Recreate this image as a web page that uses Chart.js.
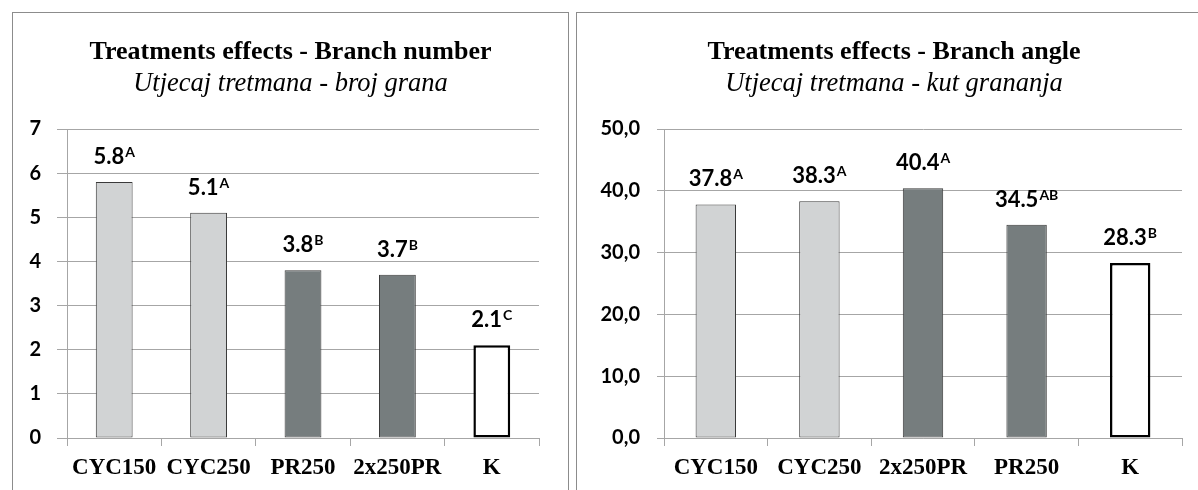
<!DOCTYPE html>
<html>
<head>
<meta charset="utf-8">
<script src="https://cdn.jsdelivr.net/npm/chart.js@4/dist/chart.umd.min.js"></script>
<style>
  html, body { margin: 0; padding: 0; background: #fff; overflow: hidden; width: 1198px; height: 490px; }
  .panel { position: absolute; top: 12px; height: 500px; border: 1px solid #8c8c8c; }
  #p1 { left: 12px; width: 555px; }
  #p2 { left: 576px; width: 634px; }
  canvas { position: absolute; left: 0; top: 0; }
</style>
</head>
<body>
<div class="panel" id="p1"><canvas id="numChart" width="555" height="477"></canvas></div>
<div class="panel" id="p2"><canvas id="angleChart" width="634" height="477"></canvas></div>
<script>
// data
var numLabels = ['CYC150', 'CYC250', 'PR250', '2x250PR', 'K'];
var numValues = [5.8, 5.1, 3.8, 3.7, 2.1];
var numGroups = ['A', 'A', 'B', 'B', 'C'];
var numMax = 7;

var angleLabels = ['CYC150', 'CYC250', '2x250PR', 'PR250', 'K'];
var angleValues = [37.8, 38.3, 40.4, 34.5, 28.3];
var angleGroups = ['A', 'A', 'A', 'AB', 'B'];
var angleMax = 50;

Chart.defaults.animation = false;
Chart.defaults.color = '#000';

function fillFor(name) {
    if (name.indexOf('CYC') === 0) return '#d1d3d4';
    if (name === 'K') return '#ffffff';
    return '#767d7e';
}
function borderFor(name) { return name === 'K' ? '#000000' : '#3a3a3a'; }
function borderWidthFor(name) { return name === 'K' ? 2.5 : 1; }

// value label with a superscript group letter above each bar
var supLabels = {
    id: 'supLabels',
    afterDatasetsDraw: function(chart, args, opts) {
        var ctx = chart.ctx;
        var meta = chart.getDatasetMeta(0);
        var values = chart.data.datasets[0].data;
        meta.data.forEach(function(bar, i) {
            var txt = values[i].toFixed(1);
            var sup = opts.groups[i];
            ctx.save();
            ctx.fillStyle = '#000';
            ctx.textBaseline = 'alphabetic';
            ctx.textAlign = 'left';
            ctx.font = 'bold 22px Lato';
            var w1 = ctx.measureText(txt).width;
            ctx.font = 'bold 14px Lato';
            var w2 = ctx.measureText(sup).width;
            var x0 = bar.x - (w1 + 1 + w2) / 2;
            var base = bar.y - 18;
            ctx.font = 'bold 22px Lato';
            ctx.fillText(txt, x0, base);
            ctx.font = 'bold 14px Lato';
            ctx.fillText(sup, x0 + w1 + 1, base - 7);
            ctx.restore();
        });
    }
};

function makeChart(id, labels, values, groups, maxVal, title, subtitle, opts) {
    var ctx = document.getElementById(id).getContext('2d');
    return new Chart(ctx, {
        type: 'bar',
        data: {
            labels: labels,
            datasets: [{
                data: values,
                backgroundColor: labels.map(fillFor),
                borderColor: labels.map(borderFor),
                borderWidth: labels.map(borderWidthFor),
                borderSkipped: false,
                barPercentage: 0.39,
                categoryPercentage: 1
            }]
        },
        options: {
            responsive: false,
            devicePixelRatio: 1,
            layout: { padding: 0 },
            scales: {
                x: {
                    grid: { drawOnChartArea: false, tickLength: 8, color: '#a6a6a6' },
                    border: { color: '#a6a6a6' },
                    ticks: {
                        padding: 8,
                        maxRotation: 0,
                        autoSkip: false,
                        font: { family: 'Liberation Serif', size: 23, weight: 'bold' }
                    },
                    afterFit: function(scale) { scale.height = 52; }
                },
                y: {
                    min: 0,
                    max: maxVal,
                    grid: { tickLength: opts.tick, color: '#a6a6a6' },
                    border: { color: '#a6a6a6' },
                    ticks: {
                        stepSize: maxVal / opts.steps,
                        padding: opts.pad,
                        font: { family: 'Lato', size: 20, weight: 'bold' },
                        callback: opts.fmt
                    },
                    afterFit: function(scale) { scale.width = opts.yWidth; }
                },
                // empty right-hand strip so the title stays centred on the panel
                yr: {
                    position: 'right',
                    min: 0,
                    max: maxVal,
                    grid: { display: false },
                    border: { display: false },
                    ticks: { display: false },
                    afterFit: function(scale) { scale.width = opts.rightGap; }
                }
            },
            plugins: {
                legend: { display: false },
                tooltip: { enabled: false },
                title: {
                    display: true,
                    text: title,
                    color: '#000',
                    font: { family: 'Liberation Serif', size: 26, weight: 'bold' },
                    padding: { top: 24, bottom: 0 }
                },
                subtitle: {
                    display: true,
                    text: subtitle,
                    color: '#000',
                    font: { family: 'Liberation Serif', size: 26.5, style: 'italic', weight: 'normal' },
                    padding: { top: 0, bottom: 29 }
                },
                supLabels: { groups: groups }
            }
        },
        plugins: [supLabels]
    });
}

// Branch number chart
var numChart = makeChart('numChart', numLabels, numValues, numGroups, numMax,
    'Treatments effects - Branch number', 'Utjecaj tretmana - broj grana',
    { yWidth: 54, rightGap: 29, tick: 10, pad: 16, steps: 7,
      fmt: function(v) { return v; } });

// Branch angle chart
var angleChart = makeChart('angleChart', angleLabels, angleValues, angleGroups, angleMax,
    'Treatments effects - Branch angle', 'Utjecaj tretmana - kut grananja',
    { yWidth: 87, rightGap: 29, tick: 7, pad: 17, steps: 5,
      fmt: function(v) { return v.toFixed(1).replace('.', ','); } });
</script>
</body>
</html>
